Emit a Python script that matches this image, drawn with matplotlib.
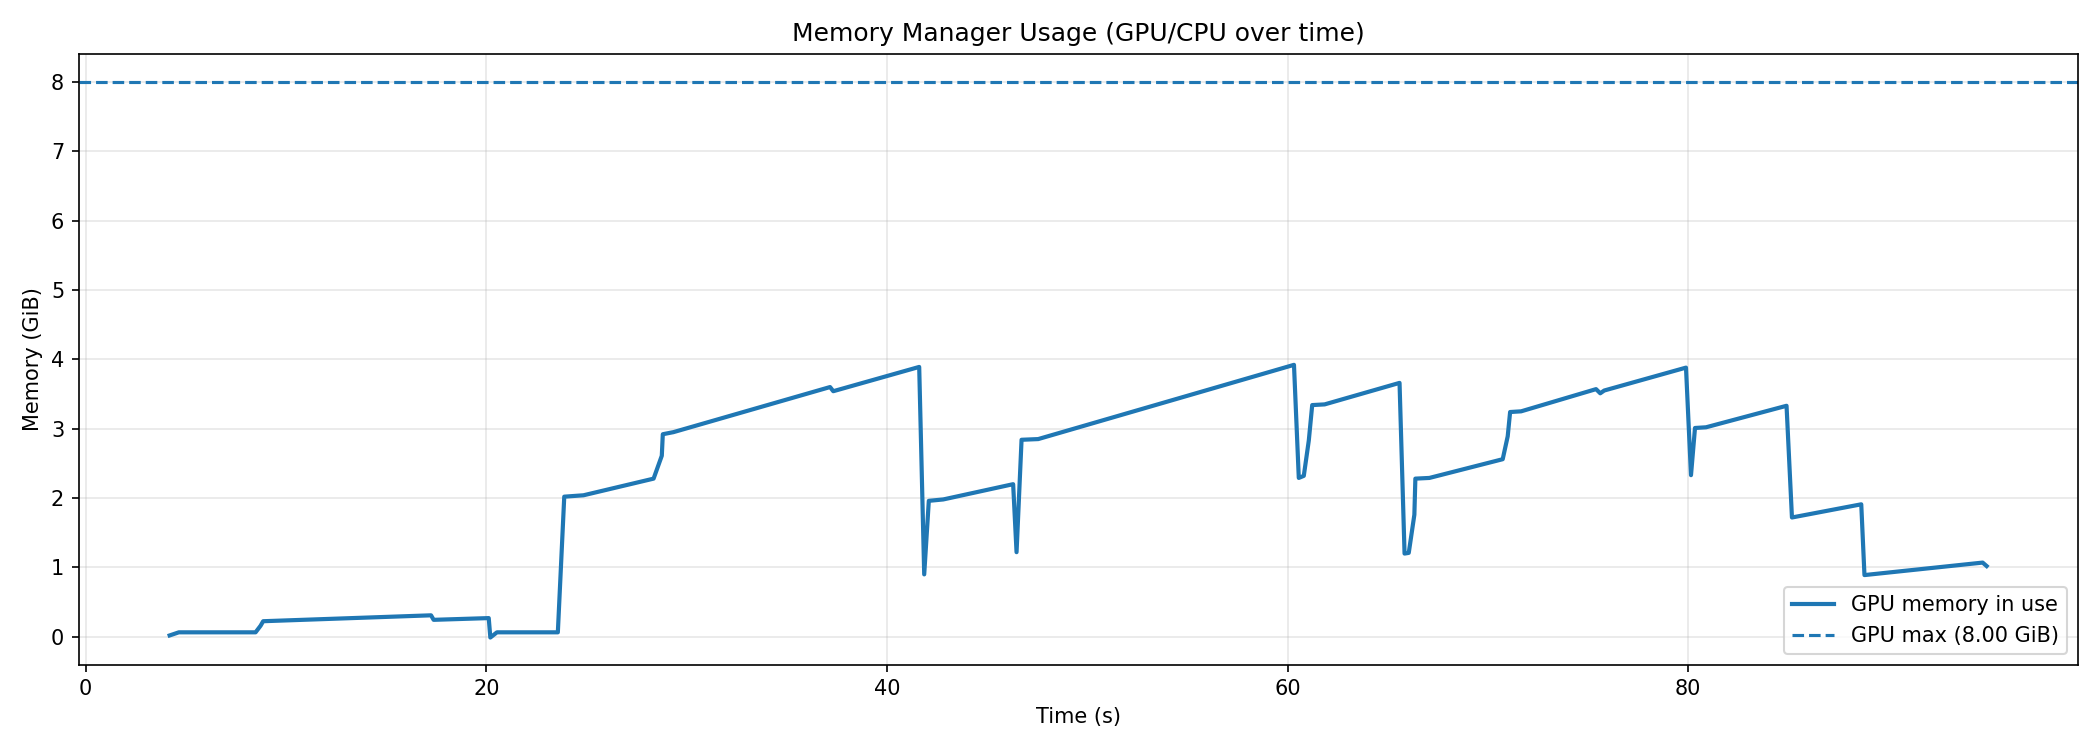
import numpy as np
import matplotlib
matplotlib.use("Agg")
import matplotlib.pyplot as plt

time_s = [4.19, 4.65, 8.48, 8.73, 8.86, 17.24, 17.37, 20.12, 20.20, 20.53,
          23.57, 23.89, 24.85, 28.35, 28.76, 28.81, 29.34, 37.16, 37.32, 41.61,
          41.86, 42.09, 42.81, 46.30, 46.47, 46.72, 47.55, 60.32, 60.56, 60.81,
          61.06, 61.23, 61.85, 65.59, 65.84, 66.05, 66.33, 66.38, 67.08, 70.74,
          70.99, 71.11, 71.66, 75.40, 75.61, 75.81, 79.89, 80.14, 80.34, 80.89,
          84.91, 85.18, 88.64, 88.80, 94.70, 94.90]
gpu_used_gib = [0.02, 0.065, 0.065, 0.16, 0.225, 0.31, 0.245, 0.27, -0.01, 0.065,
                0.065, 2.02, 2.04, 2.28, 2.61, 2.92, 2.95, 3.60, 3.54, 3.89,
                0.90, 1.96, 1.98, 2.20, 1.22, 2.84, 2.85, 3.92, 2.29, 2.32,
                2.83, 3.34, 3.35, 3.66, 1.20, 1.21, 1.76, 2.28, 2.29, 2.56,
                2.89, 3.24, 3.25, 3.57, 3.51, 3.55, 3.88, 2.33, 3.01, 3.02,
                3.33, 1.72, 1.91, 0.89, 1.07, 1.02]
gpu_max_gib = 8.0

fig, ax = plt.subplots(figsize=(14, 5), dpi=150)

ax.plot(time_s, gpu_used_gib, color="C0", linewidth=2, label="GPU memory in use")
ax.axhline(gpu_max_gib, color="C0", linestyle="--", linewidth=1.5,
           label=f"GPU max ({gpu_max_gib:.2f} GiB)")

ax.set_ylim(-0.4, 8.4)
ax.set_title("Memory Manager Usage (GPU/CPU over time)")
ax.set_xlabel("Time (s)")
ax.set_ylabel("Memory (GiB)")
ax.grid(True, alpha=0.3)
ax.legend(loc="lower right")

fig.tight_layout()
fig.savefig("out.png", dpi=150)
